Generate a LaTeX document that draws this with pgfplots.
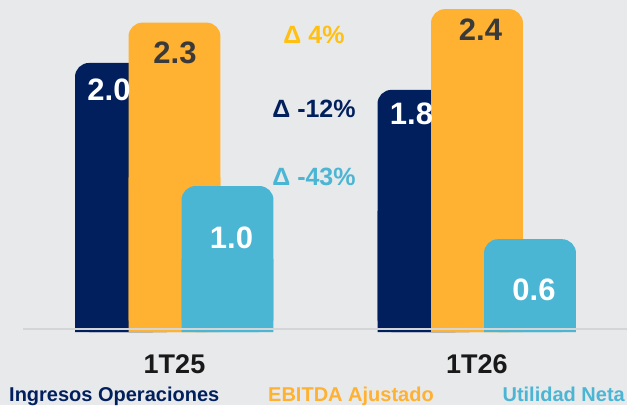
\documentclass[border=0pt]{standalone}
\usepackage{pgfplots}
\pgfplotsset{compat=1.18}
\usepackage{pgfplotstable}
\usepackage{fontspec}
\setmainfont{Liberation Sans}
\definecolor{bg}{HTML}{E8E9EB}
\definecolor{navy}{HTML}{001F5C}
\definecolor{orng}{HTML}{FFB131}
\definecolor{ltblue}{HTML}{4BB5D4}
\definecolor{gold}{HTML}{FFC012}
\definecolor{lblgray}{HTML}{3A3A3A}
\definecolor{linegray}{HTML}{D4D5D7}

% x: group (0 = 1T25, 1 = 1T26); h: bar height; lbl: printed value; dx, dy: label offsets (pt)
\pgfplotstableread{
x h lbl dx dy
0 2.00 2.0 -12 -27
1 1.80 1.8 -12 -24
}\navytab
\pgfplotstableread{
x h lbl dx dy
0 2.30 2.3 0.5 -30
1 2.40 2.4 3.5 -21
}\orngtab
\pgfplotstableread{
x h lbl dx dy
0 1.085 1.0 4 -52
1 0.69 0.6 4 -51
}\bluetab

\begin{document}
\begin{tikzpicture}
\fill[bg] (0,0) rectangle (627pt,405pt);
\useasboundingbox (0,0) rectangle (627pt,405pt);
\begin{axis}[
  at={(0pt,73pt)}, anchor=south west,
  scale only axis, width=627pt, height=332pt,
  xmin=-0.5769, xmax=1.4959, ymin=0, ymax=2.468,
  axis line style={draw=none},
  major tick length=0pt,
  ytick=\empty,
  xtick={0,1},
  xticklabels={\textbf{1T25},\textbf{1T26}},
  xticklabel style={font=\bfseries\fontsize{27}{27}\selectfont, text=black!90, anchor=base, yshift=-41pt, inner sep=0pt},
  clip=false,
  bar width=0.304,
  every node near coord/.append style={font=\bfseries\fontsize{31}{31}\selectfont, anchor=center, inner sep=0pt},
]
% navy bars
\addplot[ybar, bar shift=-0.1769, fill=navy, draw=none, rounded corners=14pt] table[x=x,y=h]{\navytab};
\addplot[ybar, bar shift=-0.1769, fill=navy, draw=none] table[x=x,y expr=\thisrow{h}/2]{\navytab};
% orange bars
\addplot[ybar, bar shift=0, fill=orng, draw=none, rounded corners=14pt] table[x=x,y=h]{\orngtab};
\addplot[ybar, bar shift=0, fill=orng, draw=none] table[x=x,y expr=\thisrow{h}/2]{\orngtab};
% light blue bars
\addplot[ybar, bar shift=0.1752, fill=ltblue, draw=none, rounded corners=14pt] table[x=x,y=h]{\bluetab};
\addplot[ybar, bar shift=0.1752, fill=ltblue, draw=none] table[x=x,y expr=\thisrow{h}/2]{\bluetab};
% value labels
\addplot[draw=none, mark=none, point meta=explicit symbolic, nodes near coords,
  visualization depends on={\thisrow{dx} \as \dx},
  visualization depends on={\thisrow{dy} \as \dy},
  every node near coord/.append style={text=white, xshift=\dx pt, yshift=\dy pt}]
  table[x expr=\thisrow{x}-0.1769, y=h, meta=lbl]{\navytab};
\addplot[draw=none, mark=none, point meta=explicit symbolic, nodes near coords,
  visualization depends on={\thisrow{dx} \as \dx},
  visualization depends on={\thisrow{dy} \as \dy},
  every node near coord/.append style={text=lblgray, xshift=\dx pt, yshift=\dy pt}]
  table[x=x, y=h, meta=lbl]{\orngtab};
\addplot[draw=none, mark=none, point meta=explicit symbolic, nodes near coords,
  visualization depends on={\thisrow{dx} \as \dx},
  visualization depends on={\thisrow{dy} \as \dy},
  every node near coord/.append style={text=white, xshift=\dx pt, yshift=\dy pt}]
  table[x expr=\thisrow{x}+0.1752, y=h, meta=lbl]{\bluetab};
\end{axis}
% baseline
\draw[linegray, line width=2pt] (23pt,76pt) -- (627pt,76pt);
% delta annotations
\node[anchor=base, text=gold, font=\bfseries\fontsize{25}{25}\selectfont, inner sep=0pt] at (314pt,361pt) {Δ 4\%};
\node[anchor=base, text=navy, font=\bfseries\fontsize{25}{25}\selectfont, inner sep=0pt] at (314pt,287pt) {Δ -12\%};
\node[anchor=base, text=ltblue, font=\bfseries\fontsize{25}{25}\selectfont, inner sep=0pt] at (314pt,219pt) {Δ -43\%};
% legend
\node[anchor=base west, text=navy, font=\bfseries\fontsize{20}{20}\selectfont, inner sep=0pt] at (9pt,4pt) {Ingresos Operaciones};
\node[anchor=base west, text=orng, font=\bfseries\fontsize{20}{20}\selectfont, inner sep=0pt] at (268pt,4pt) {EBITDA Ajustado};
\node[anchor=base east, text=ltblue, font=\bfseries\fontsize{20}{20}\selectfont, inner sep=0pt] at (625pt,4pt) {Utilidad Neta};
\end{tikzpicture}
\end{document}
